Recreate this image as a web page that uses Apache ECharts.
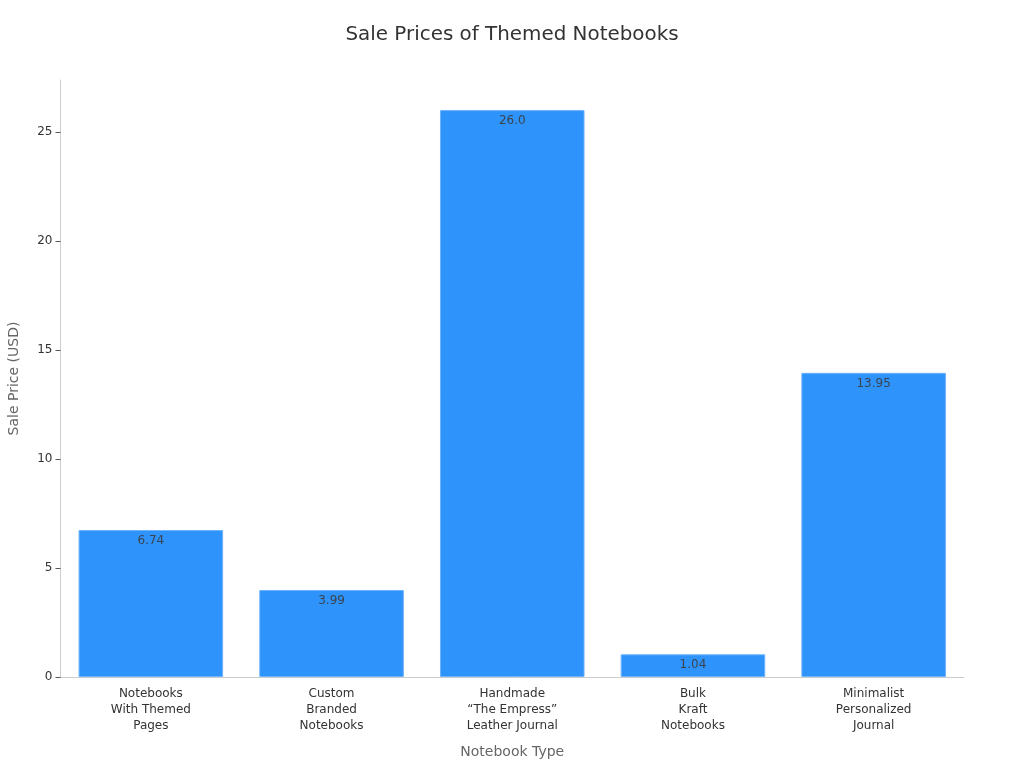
<!DOCTYPE html>
<html>
<head>
    <meta charset="utf-8">
    <script type="text/javascript" src="https://cdn.jsdelivr.net/npm/echarts@6/dist/echarts.min.js"></script>
    <style>html,body{margin:0;padding:0;background:#fff;}</style>
</head>
<body>
<div id="main" style="width:1024px;height:768px;"></div>
<script type="text/javascript">
    var categories = ['Notebooks\nWith Themed\nPages', 'Custom\nBranded\nNotebooks', 'Handmade\n“The Empress”\nLeather Journal', 'Bulk\nKraft\nNotebooks', 'Minimalist\nPersonalized\nJournal'];
    var prices = [6.74, 3.99, 26.0, 1.04, 13.95];
    var priceLabels = ['6.74', '3.99', '26.0', '1.04', '13.95'];

    var font = '"DejaVu Sans"';
    var myChart = echarts.init(document.getElementById('main'));
    myChart.setOption({
        animation: false,
        title: {
            text: 'Sale Prices of Themed Notebooks',
            left: 'center',
            top: 20,
            textStyle: {fontFamily: font, fontSize: 19.9, fontWeight: 'normal', color: '#333'}
        },
        grid: {left: 60.5, right: 60, top: 80, bottom: 91, outerBoundsMode: 'none'},
        xAxis: {
            type: 'category',
            data: categories,
            name: 'Notebook Type',
            nameLocation: 'middle',
            nameGap: 68,
            nameTextStyle: {fontFamily: font, fontSize: 14, color: '#666'},
            axisLine: {lineStyle: {color: '#ccc'}},
            axisTick: {alignWithLabel: true, length: 5, lineStyle: {color: '#555'}},
            axisLabel: {fontFamily: font, fontSize: 12, color: '#333', lineHeight: 16, margin: 8.5, interval: 0}
        },
        yAxis: {
            type: 'value',
            min: 0,
            max: 27.38,
            interval: 5,
            name: 'Sale Price (USD)',
            nameLocation: 'middle',
            nameGap: 39,
            nameTextStyle: {fontFamily: font, fontSize: 14, color: '#666'},
            splitLine: {show: false},
            axisLine: {show: true, lineStyle: {color: '#ccc'}},
            axisTick: {show: true, length: 5, lineStyle: {color: '#555'}},
            axisLabel: {fontFamily: font, fontSize: 12, color: '#333', margin: 8, showMaxLabel: false}
        },
        series: [{
            type: 'bar',
            data: prices,
            barWidth: '80%',
            itemStyle: {color: '#2E93FA', borderColor: '#6DB3FB', borderWidth: 1},
            label: {
                show: true,
                position: 'insideTop',
                distance: 5,
                fontFamily: font,
                fontSize: 12,
                color: '#3A4450',
                formatter: function (p) { return priceLabels[p.dataIndex]; }
            }
        }]
    });
</script>
</body>
</html>
